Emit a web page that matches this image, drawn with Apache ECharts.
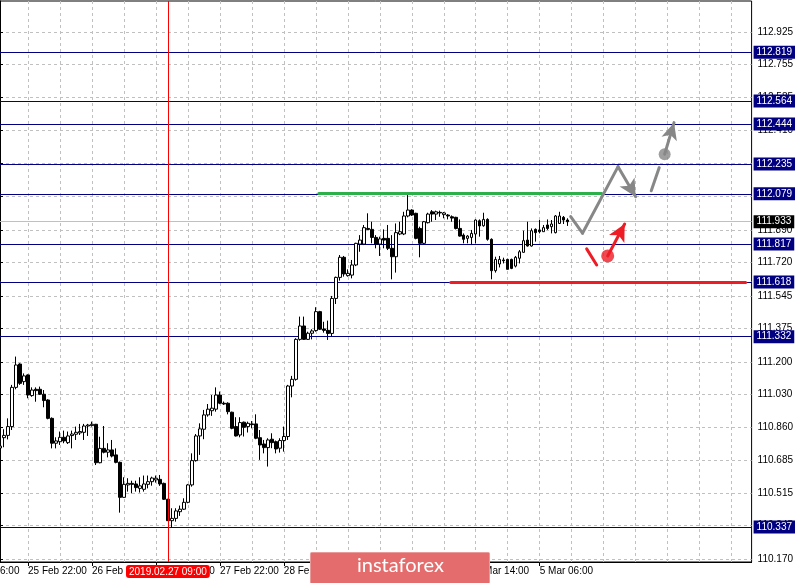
<!DOCTYPE html>
<html><head><meta charset="utf-8">
<script src="https://cdn.jsdelivr.net/npm/echarts@6/dist/echarts.min.js"></script>
<style>html,body{margin:0;padding:0;background:#fff}#c{width:798px;height:583px}</style>
</head><body><div id="c"></div>
<script>
// ---- data ----
const opens = [110.750,110.804,110.816,110.862,111.067,111.189,111.097,111.132,111.024,111.057,
111.057,111.031,111.001,110.905,110.775,110.783,110.806,110.778,110.815,110.822,
110.829,110.832,110.865,110.867,110.874,110.673,110.748,110.728,110.740,110.714,
110.675,110.492,110.557,110.565,110.562,110.539,110.534,110.560,110.574,110.583,
110.586,110.565,110.482,110.370,110.382,110.417,110.430,110.466,110.557,110.684,
110.813,110.848,110.923,110.945,110.953,111.027,110.984,110.984,110.937,110.862,
110.818,110.885,110.862,110.876,110.876,110.804,110.771,110.752,110.796,110.783,
110.749,110.789,110.810,111.074,111.109,111.318,111.388,111.318,111.350,111.364,
111.463,111.372,111.365,111.349,111.532,111.642,111.747,111.651,111.654,111.707,
111.816,111.816,111.898,111.893,111.851,111.816,111.846,111.846,111.794,111.750,
111.869,111.869,111.963,111.994,111.977,111.898,111.820,111.928,111.985,111.973,
111.982,111.970,111.968,111.959,111.956,111.898,111.863,111.846,111.851,111.869,
111.938,111.912,111.945,111.841,111.677,111.712,111.733,111.736,111.736,111.701,
111.742,111.773,111.837,111.806,111.893,111.890,111.881,111.916,111.907,111.876,
111.924,111.956,111.942];
const closes = [110.760,110.816,110.862,111.067,111.184,111.088,111.127,111.027,111.053,111.050,
111.031,110.998,110.905,110.775,110.787,110.806,110.787,110.813,110.823,110.832,
110.836,110.865,110.870,110.874,110.673,110.748,110.728,110.740,110.708,110.675,
110.492,110.560,110.565,110.560,110.543,110.552,110.562,110.574,110.593,110.592,
110.562,110.482,110.370,110.382,110.421,110.430,110.466,110.557,110.684,110.813,
110.850,110.923,110.953,110.958,111.027,110.984,110.980,110.940,110.853,110.813,
110.883,110.858,110.879,110.872,110.801,110.766,110.752,110.792,110.778,110.745,
110.789,110.810,111.074,111.109,111.318,111.388,111.318,111.350,111.362,111.463,
111.371,111.365,111.349,111.532,111.642,111.747,111.660,111.663,111.707,111.820,
111.837,111.902,111.893,111.851,111.816,111.843,111.837,111.794,111.750,111.876,
111.881,111.963,111.994,111.968,111.846,111.820,111.933,111.973,111.973,111.985,
111.979,111.979,111.963,111.952,111.898,111.858,111.841,111.858,111.872,111.942,
111.911,111.945,111.841,111.677,111.736,111.736,111.729,111.684,111.689,111.747,
111.776,111.834,111.806,111.886,111.876,111.881,111.902,111.898,111.921,111.963,
111.963,111.942,111.933];
const highs = [110.770,110.848,110.905,111.080,111.228,111.193,111.140,111.135,111.067,111.067,
111.071,111.053,111.005,110.910,110.806,110.836,110.841,110.836,110.841,110.862,
110.876,110.876,110.876,110.888,110.876,110.809,110.865,110.775,110.792,110.748,
110.679,110.597,110.592,110.579,110.579,110.597,110.606,110.606,110.600,110.606,
110.609,110.569,110.484,110.435,110.435,110.449,110.487,110.562,110.722,110.823,
110.879,110.949,110.980,111.027,111.067,111.045,110.993,110.989,110.940,110.911,
110.911,110.888,110.888,110.891,110.926,110.844,110.792,110.801,110.827,110.789,
110.801,110.862,111.080,111.127,111.324,111.437,111.437,111.358,111.371,111.486,
111.467,111.410,111.416,111.545,111.646,111.759,111.754,111.684,111.733,111.823,
111.863,111.916,111.977,111.933,111.863,111.855,111.893,111.916,111.863,111.924,
111.933,111.985,112.073,111.998,111.980,111.907,111.937,111.980,111.994,111.991,
111.991,111.984,111.973,111.966,111.959,111.945,111.872,111.863,111.890,111.945,
111.945,111.980,111.951,111.846,111.750,111.754,111.745,111.740,111.740,111.754,
111.785,111.886,111.933,111.898,111.898,111.942,111.916,111.945,111.942,111.968,
111.985,111.963,111.951];
const lows = [110.722,110.754,110.795,110.844,111.057,111.080,111.080,111.010,111.018,110.992,
111.027,110.963,110.900,110.748,110.748,110.766,110.775,110.771,110.748,110.792,
110.818,110.792,110.813,110.862,110.661,110.670,110.722,110.701,110.701,110.670,
110.412,110.491,110.522,110.513,110.522,110.517,110.522,110.539,110.553,110.569,
110.552,110.478,110.369,110.334,110.365,110.395,110.426,110.461,110.548,110.679,
110.714,110.796,110.914,110.918,110.940,110.979,110.975,110.926,110.848,110.810,
110.806,110.810,110.831,110.853,110.796,110.688,110.722,110.653,110.749,110.722,
110.726,110.731,110.792,111.015,111.102,111.311,111.315,111.315,111.318,111.358,
111.367,111.353,111.315,111.332,111.503,111.625,111.646,111.646,111.637,111.701,
111.776,111.811,111.890,111.820,111.794,111.754,111.794,111.785,111.632,111.667,
111.863,111.863,111.956,111.963,111.841,111.747,111.816,111.924,111.933,111.942,
111.959,111.951,111.945,111.933,111.893,111.855,111.820,111.820,111.811,111.820,
111.855,111.907,111.834,111.632,111.667,111.694,111.715,111.684,111.685,111.694,
111.715,111.771,111.803,111.803,111.829,111.872,111.881,111.890,111.872,111.872,
111.921,111.921,111.911];

const levelLines = [110.337, 111.332, 111.618, 111.817, 112.079, 112.235, 112.444, 112.564, 112.819];
const bidPrice = [111.933];
const yTicks = [110.170,110.345,110.515,110.685,110.860,111.030,111.200,111.375,111.545,111.720,
111.890,112.065,112.240,112.410,112.585,112.755,112.925];
const crossIndex = 42;
// drawings (x in bar units, y in price)
const greenLevel = [[79.75,112.082],[150.5,112.082]];
const redLevel   = [[112.75,111.616],[186.5,111.616]];
const grayPath   = [[142.75,111.960],[145.7,111.873],[154.6,112.221],[159.0,112.064]];
const grayDash   = [[162.9,112.095],[164.9,112.216]];
const grayArrow  = [[166.25,112.286],[168.6,112.451]];
const redDash    = [[146.75,111.791],[149.25,111.707]];
const redArrow   = [[152.0,111.754],[156.25,111.921]];

// ---- categories (hourly bars, weekend skipped) ----
const MONTHS = ['Jan','Feb','Mar','Apr','May','Jun','Jul','Aug','Sep','Oct','Nov','Dec'];
const pad = n => (n < 10 ? '0' : '') + n;
const cats = [];
const shortLabels = [];
let t = Date.UTC(2019, 1, 25, 15);
while (cats.length < opens.length) {
  const d = new Date(t);
  const wd = d.getUTCDay();
  if (wd !== 0 && wd !== 6) {
    cats.push(d.getUTCFullYear() + '.' + pad(d.getUTCMonth() + 1) + '.' + pad(d.getUTCDate()) + ' ' + pad(d.getUTCHours()) + ':00');
    shortLabels.push(d.getUTCDate() + ' ' + MONTHS[d.getUTCMonth()] + ' ' + pad(d.getUTCHours()) + ':00');
  }
  t += 3600000;
}
const TOTAL = 189;
const lastBar = opens.length - 1;
while (cats.length < TOTAL) { cats.push('f' + cats.length); shortLabels.push(''); }

const candles = opens.map((o, i) => [o, closes[i], lows[i], highs[i]]);

const FONT = 'Liberation Sans';
const FS = 10;
const YMIN = 110.154, YMAX = 113.087;
const labelShown = i => i >= 7 && (i - 7) % 16 === 0 && i <= lastBar;

const seg = (pts, color, width, endSymbol, size) => {
  const out = [];
  for (let k = 0; k < pts.length - 1; k++) {
    const last = k === pts.length - 2;
    const ls = { color, width, type: 'solid', cap: 'round' };
    out.push([
      { coord: pts[k], symbol: 'none', lineStyle: ls },
      { coord: pts[k + 1], symbol: (last && endSymbol) ? endSymbol : 'none', symbolSize: size || 10, lineStyle: ls }
    ]);
  }
  return out;
};

const levelAxis = (values, color, bg, z) => ({
  type: 'value', position: 'right', min: YMIN, max: YMAX, z,
  axisLine: { show: false },
  axisTick: { show: false, customValues: values },
  axisLabel: { show: true, customValues: values, margin: 2, formatter: v => v.toFixed(3),
    backgroundColor: bg, color: '#fff', padding: [2, 3, 1, 3], fontSize: FS, fontFamily: FONT },
  splitLine: { show: true, lineStyle: { color, width: 1, type: 'solid' } }
});

const chart = echarts.init(document.getElementById('c'), null, { renderer: 'canvas' });
chart.setOption({
  animation: false,
  backgroundColor: '#ffffff',
  textStyle: { fontFamily: FONT },
  axisPointer: { triggerOn: 'none' },
  grid: { left: -1, right: 46, top: 1, bottom: 21, show: true, borderColor: '#000', borderWidth: 1, backgroundColor: 'transparent' },
  xAxis: [{
    type: 'category', data: cats, boundaryGap: false,
    axisLine: { show: true, lineStyle: { color: '#000', width: 1 } },
    axisTick: { show: true, length: 4, interval: (i) => labelShown(i), lineStyle: { color: '#000' } },
    axisLabel: { show: true, interval: (i) => labelShown(i), formatter: (v, i) => shortLabels[i] || '',
      align: 'left', margin: 4, fontSize: FS, color: '#000', fontFamily: FONT },
    splitLine: { show: true, interval: (i) => i >= 7 && (i - 7) % 8 === 0,
      lineStyle: { color: '#c0c0c0', type: [3, 3], width: 1 } },
    axisPointer: {
      show: true, type: 'line', value: crossIndex, status: 'show', snap: false, triggerTooltip: false,
      lineStyle: { color: '#ff0000', width: 1, type: 'solid' },
      label: { show: true, backgroundColor: '#ff0000', color: '#fff', padding: [2, 3, 1, 3], fontSize: FS,
        fontFamily: FONT, margin: 3, formatter: () => cats[crossIndex] }
    }
  }, {
    type: 'value', min: 0, max: TOTAL - 1, show: false
  }],
  yAxis: [{
    type: 'value', position: 'right', min: YMIN, max: YMAX, z: 0,
    axisLine: { show: true, lineStyle: { color: '#000' } },
    axisTick: { show: true, length: 3, customValues: yTicks, lineStyle: { color: '#000' } },
    axisLabel: { show: true, customValues: yTicks, formatter: v => v.toFixed(3), margin: 6,
      fontSize: FS, color: '#000', fontFamily: FONT },
    splitLine: { show: true, lineStyle: { color: '#c0c0c0', type: [3, 3], width: 1 } }
  },
  levelAxis(bidPrice, '#c0c0c0', '#000000', 1),
  levelAxis(levelLines, '#000080', '#000080', 2)
  ],
  series: [{
    type: 'candlestick', name: 'USDJPY', data: candles, barWidth: 3, z: 3,
    itemStyle: { color: '#ffffff', color0: '#000000', borderColor: '#000000', borderColor0: '#000000', borderWidth: 1 }
  }, {
    type: 'scatter', name: 'levelsDrawn', xAxisIndex: 1, z: 5, silent: true, data: [], symbolSize: 0,
    markLine: {
      silent: true, symbol: 'none', animation: false, label: { show: false },
      lineStyle: { type: 'solid', width: 3 },
      data: [].concat(seg(greenLevel, '#2bb04a', 3), seg(redLevel, '#ee1c25', 3))
    }
  }, {
    type: 'scatter', name: 'drawGray', xAxisIndex: 1, z: 6, silent: true,
    data: [grayArrow[0]], symbolSize: 12, itemStyle: { color: '#878787' },
    markLine: {
      silent: true, symbol: 'none', animation: false, label: { show: false },
      lineStyle: { color: '#878787', width: 3, type: 'solid', cap: 'round', join: 'round' },
      data: [].concat(
        seg(grayPath, '#878787', 3, 'arrow', [13, 17]),
        seg(grayDash, '#878787', 3),
        seg(grayArrow, '#878787', 3, 'arrow', [12, 17])
      )
    }
  }, {
    type: 'scatter', name: 'drawRed', xAxisIndex: 1, z: 6, silent: true,
    data: [redArrow[0]], symbolSize: 13, itemStyle: { color: '#ee1c25' },
    markLine: {
      silent: true, symbol: 'none', animation: false, label: { show: false },
      lineStyle: { color: '#ee1c25', width: 3, type: 'solid', cap: 'round' },
      data: [].concat(
        seg(redDash, '#ee1c25', 3),
        seg(redArrow, '#ee1c25', 3, 'arrow', [13, 17])
      )
    }
  }],
  graphic: [{
    type: 'text', left: 0, top: 566, z: 1,
    style: { text: '6:00', font: FS + 'px "Liberation Sans"', fill: '#000' }
  }, {
    type: 'rect', left: 310, top: 552, z: 100, zlevel: 1,
    shape: { x: 0, y: 0, width: 179, height: 31, r: 1 },
    style: { fill: '#e46c6c', stroke: '#eb9a9a', lineWidth: 1 }
  }, {
    type: 'text', left: 357, top: 556, z: 101, zlevel: 1,
    style: { text: 'instaforex', fill: '#ffffff', font: '20px Lato' }
  }]
});
</script></body></html>
